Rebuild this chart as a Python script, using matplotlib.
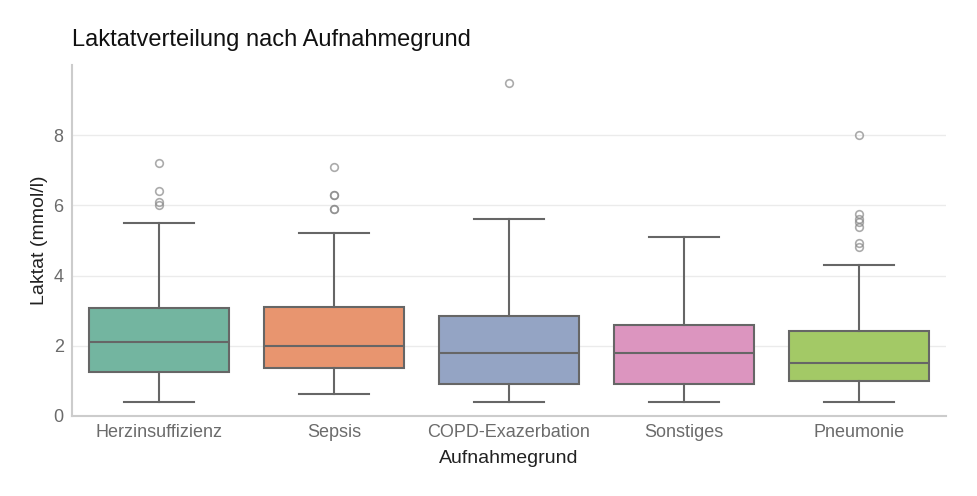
import matplotlib
matplotlib.use("Agg")
import matplotlib.pyplot as plt

categories = ["Herzinsuffizienz", "Sepsis", "COPD-Exazerbation", "Sonstiges", "Pneumonie"]
whislo = [0.41, 0.62, 0.41, 0.41, 0.40]
q1 = [1.24, 1.36, 0.92, 0.92, 1.01]
med = [2.11, 2.00, 1.80, 1.80, 1.51]
q3 = [3.09, 3.11, 2.86, 2.60, 2.41]
whishi = [5.51, 5.20, 5.60, 5.11, 4.31]
fliers = [
    [7.2, 6.4, 6.1, 6.0],
    [7.1, 6.3, 6.3, 5.9, 5.9],
    [9.5],
    [],
    [8.0, 5.76, 5.62, 5.52, 5.38, 4.92, 4.81],
]
fill_colors = ["#73b5a0", "#e8956f", "#94a4c4", "#dc95bf", "#a3c966"]

plt.rcParams['font.family'] = ['Liberation Sans', 'DejaVu Sans']

fig = plt.figure(figsize=(9.77, 4.96), dpi=100)
ax = fig.add_axes([72/977, 80/496, 874/977, 351/496])

stats = []
for i, c in enumerate(categories):
    stats.append(dict(label=c, whislo=whislo[i], q1=q1[i], med=med[i], q3=q3[i],
                      whishi=whishi[i], fliers=fliers[i]))

edge = "#666666"
bp = ax.bxp(stats, positions=range(len(categories)), widths=0.8, patch_artist=True,
            boxprops=dict(edgecolor=edge, linewidth=1.5),
            medianprops=dict(color=edge, linewidth=1.5),
            whiskerprops=dict(color=edge, linewidth=1.5),
            capprops=dict(color=edge, linewidth=1.5),
            capwidths=0.4,
            flierprops=dict(marker='o', markerfacecolor='none', markeredgecolor='#888888',
                            markersize=5.5, alpha=0.7, markeredgewidth=1.2))
for patch, fc in zip(bp['boxes'], fill_colors):
    patch.set_facecolor(fc)

ax.set_xlim(-0.5, 4.5)
ax.set_ylim(0, 10)
ax.set_yticks([0, 2, 4, 6, 8])
ax.set_xticks(range(len(categories)))
ax.set_xticklabels(categories)
ax.yaxis.grid(True, color="#ebebeb", linewidth=1)
ax.set_axisbelow(True)
for s in ["top", "right"]:
    ax.spines[s].set_visible(False)
for s in ["left", "bottom"]:
    ax.spines[s].set_color("#cccccc")
    ax.spines[s].set_linewidth(1.5)
ax.tick_params(axis='both', length=0, labelsize=13, labelcolor="#6b6b6b", pad=6)
ax.set_xlabel("Aufnahmegrund", fontsize=14, color="#222222", labelpad=6)
ax.set_ylabel("Laktat (mmol/l)", fontsize=14, color="#222222", labelpad=4)
ax.set_title("Laktatverteilung nach Aufnahmegrund", loc="left", fontsize=17,
             color="#111111", pad=14)

fig.savefig("out.png", dpi=100)
